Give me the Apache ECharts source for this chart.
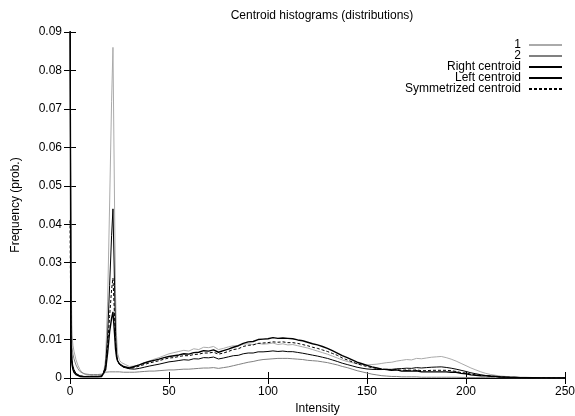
<!DOCTYPE html>
<html>
<head>
<meta charset="utf-8">
<script src="https://cdn.jsdelivr.net/npm/echarts@6/dist/echarts.min.js"></script>
<style>html,body{margin:0;padding:0;background:#fff}#c{width:575px;height:416px}</style>
</head>
<body>
<div id="c"></div>
<script>
var xs = [0,0.5,1,1.5,2,3,4,5,6,7,
  8,10,12,14,16,17,18,19,20,21,
  21.7,22.5,23,23.5,24,25,26,27,28,30,
  32.5,35,37.5,40,42.5,45,47.5,50,52.5,55,
  57.5,60,62.5,65,67.5,70,72.5,75,77.5,80,
  82.5,85,87.5,90,92.5,95,97.5,100,102.5,105,
  107.5,110,112.5,115,117.5,120,122.5,125,127.5,130,
  132.5,135,137.5,140,142.5,145,147.5,150,152.5,155,
  157.5,160,162.5,165,167.5,170,172.5,175,177.5,180,
  182.5,185,187.5,190,192.5,195,197.5,200,202.5,205,
  207.5,210,212.5,215,217.5,220,222.5,225,227.5,230,
  232.5,235,237.5,240,242.5,245,247.5,250];

var hist1 = [0.12,0.03,0.011,0.0085,0.007,0.0048,0.0033,0.0022,0.0015,0.0011,
  0.0009,0.0007,0.0006,0.0007,0.0009,0.0015,0.005,0.02,0.045,0.072,
  0.086,0.045,0.022,0.011,0.0065,0.0046,0.004,0.0037,0.0035,0.0030,
  0.0031,0.0034,0.0039,0.0044,0.0049,0.0053,0.0058,0.0063,0.0066,0.0069,
  0.0072,0.0070,0.0076,0.0074,0.0080,0.0079,0.0082,0.0074,0.0077,0.0081,
  0.0084,0.0083,0.0088,0.0089,0.0087,0.0090,0.0088,0.0089,0.0091,0.0087,
  0.0089,0.0086,0.0087,0.0084,0.0081,0.0078,0.0074,0.0070,0.0066,0.0062,
  0.0057,0.0052,0.0047,0.0043,0.0040,0.0037,0.0035,0.0034,0.0035,0.0036,
  0.0038,0.0040,0.0041,0.0044,0.0046,0.0048,0.0047,0.0051,0.0050,0.0052,
  0.0054,0.0055,0.0056,0.0053,0.0049,0.0044,0.0038,0.0032,0.0026,0.0021,
  0.0016,0.0012,0.0009,0.0007,0.0005,0.0004,0.0003,0.0003,0.0002,0.0002,
  0.00015,0.0001,0.0001,0.00008,0.00005,0.00003,0.00002,0];

var hist2 = [0.1,0.02,0.008,0.0062,0.005,0.0034,0.0024,0.0017,0.0013,0.0011,
  0.001,0.0009,0.0009,0.0009,0.001,0.0012,0.0015,0.0016,0.0016,0.0016,
  0.0016,0.0016,0.0016,0.0016,0.0016,0.0016,0.0016,0.0015,0.0015,0.0015,
  0.0015,0.0016,0.0017,0.0018,0.0018,0.0019,0.0020,0.0021,0.0021,0.0022,
  0.0023,0.0023,0.0024,0.0025,0.0026,0.0026,0.0027,0.0025,0.0027,0.0029,
  0.0032,0.0035,0.0038,0.0041,0.0043,0.0046,0.0048,0.0049,0.0050,0.0051,
  0.0051,0.0051,0.0050,0.0049,0.0048,0.0046,0.0045,0.0044,0.0042,0.0040,
  0.0037,0.0034,0.0030,0.0027,0.0023,0.0019,0.0016,0.0013,0.0010,0.0008,
  0.0006,0.0005,0.0004,0.0004,0.0003,0.0003,0.0003,0.0003,0.0002,0.0002,
  0.0002,0.0002,0.0002,0.0002,0.0002,0.0002,0.00015,0.00015,0.0001,0.0001,
  0.0001,0.0001,0.0001,0.0001,0.00005,0.00005,0.00003,0.00003,0.00002,0.00002,
  0.00001,0.00001,0,0,0,0,0,0];

var rightCentroid = [0.11,0.01,0.0045,0.003,0.0022,0.0012,0.0008,0.0006,0.0005,0.0004,
  0.0004,0.0004,0.0004,0.0004,0.0006,0.0012,0.0035,0.011,0.024,0.037,
  0.044,0.024,0.012,0.0065,0.0045,0.0035,0.0031,0.0028,0.0026,0.0024,
  0.0023,0.0025,0.0028,0.0031,0.00335,0.0036,0.0039,0.0042,0.00435,0.00455,
  0.00475,0.00465,0.0050,0.00495,0.0053,0.00525,0.00545,0.00495,0.0052,0.0055,
  0.0058,0.0059,0.0063,0.0065,0.0065,0.0068,0.0068,0.0069,0.00705,0.0069,
  0.0070,0.00685,0.00685,0.00665,0.00645,0.0062,0.00595,0.0057,0.0054,0.0051,
  0.0047,0.0043,0.00385,0.0035,0.00315,0.0028,0.00255,0.00235,0.00225,0.0022,
  0.0022,0.00225,0.00225,0.0024,0.00245,0.00255,0.0025,0.0027,0.0026,0.0027,
  0.0028,0.00285,0.0029,0.00275,0.00255,0.0023,0.0020,0.0017,0.00135,0.0011,
  0.00085,0.00065,0.0005,0.0004,0.00028,0.00022,0.00017,0.00016,0.00011,0.0001,
  0.00008,0.00005,0.00005,0.00004,0.00003,0.00002,0.00001,0];

var leftCentroid = [0.1,0.008,0.0035,0.0022,0.0015,0.0009,0.0006,0.0004,0.0003,0.0003,
  0.0003,0.0003,0.0003,0.0003,0.0004,0.0007,0.0022,0.0065,0.012,0.0155,
  0.0172,0.0115,0.0075,0.0055,0.0045,0.0037,0.0033,0.003,0.0028,0.0026,
  0.0030,0.0034,0.0039,0.0043,0.0046,0.0049,0.0053,0.0056,0.0058,0.0060,
  0.0063,0.0062,0.0066,0.0067,0.0071,0.0070,0.0073,0.0067,0.0071,0.0075,
  0.0080,0.0084,0.0090,0.0094,0.0095,0.0100,0.0101,0.0102,0.0105,0.0103,
  0.0104,0.0103,0.0102,0.0099,0.0097,0.0093,0.0089,0.0086,0.0082,0.0077,
  0.0071,0.0065,0.0058,0.0053,0.0047,0.0041,0.0037,0.0033,0.0029,0.0026,
  0.0023,0.0022,0.0020,0.0021,0.0018,0.0019,0.0018,0.0019,0.0016,0.0016,
  0.0016,0.0016,0.0016,0.0016,0.0015,0.0015,0.0012,0.0011,0.0008,0.0007,
  0.0006,0.00054,0.00047,0.00041,0.00025,0.00022,0.00015,0.00015,0.0001,0.0001,
  0.00006,0.00005,0.00003,0.00002,0.00001,0,0,0];

var symCentroid = [0.041,0.009,0.004,0.0026,0.0018,0.001,0.0007,0.0005,0.0004,0.0004,
  0.0004,0.0004,0.0004,0.0004,0.0005,0.0009,0.0028,0.0085,0.016,0.023,
  0.026,0.016,0.009,0.006,0.0045,0.0036,0.0032,0.0029,0.0027,0.0025,
  0.0027,0.0031,0.0035,0.0039,0.0042,0.0045,0.0049,0.0052,0.0053,0.0056,
  0.0058,0.0058,0.0061,0.0062,0.0065,0.0065,0.0067,0.0062,0.0065,0.0069,
  0.0074,0.0076,0.0082,0.0085,0.0086,0.0090,0.0091,0.0092,0.0094,0.0093,
  0.0094,0.0092,0.0092,0.0090,0.0087,0.0084,0.0080,0.0077,0.0073,0.0069,
  0.0064,0.0059,0.0052,0.0047,0.0042,0.0037,0.0033,0.0030,0.0027,0.0025,
  0.0023,0.0022,0.0021,0.0022,0.0020,0.0021,0.0020,0.0021,0.0019,0.0019,
  0.0020,0.0020,0.0020,0.0020,0.0019,0.0017,0.0014,0.0013,0.0010,0.0008,
  0.0007,0.0006,0.0005,0.0004,0.00026,0.00022,0.00016,0.00015,0.0001,0.0001,
  0.00007,0.00005,0.00004,0.00003,0.00002,0.00001,0.00001,0];

var seriesNames = ['1','2','Right centroid','Left centroid','Symmetrized centroid'];
var xTicks = [0,50,100,150,200,250];
var yTicks = [0,0.01,0.02,0.03,0.04,0.05,0.06,0.07,0.08,0.09];

function pairs(ys){ return xs.map(function(x,i){ return [x, ys[i]]; }); }

var FONT = 'Liberation Sans, Arial, Helvetica, sans-serif';
var axisCommon = {
  axisLine:{show:true,lineStyle:{color:'#000',width:1}},
  axisTick:{show:true,inside:true,length:6,lineStyle:{color:'#000'}},
  splitLine:{show:false}
};
function merge(a,b){var o={};for(var k in a)o[k]=a[k];for(var k2 in b)o[k2]=b[k2];return o;}

var chart = echarts.init(document.getElementById('c'), null, {renderer:'canvas'});
chart.setOption({
  animation:false,
  backgroundColor:'#fff',
  textStyle:{fontFamily:FONT},
  title:{text:'Centroid histograms (distributions)', left:317, top:5, textAlign:'center',
    textStyle:{fontSize:12,fontWeight:'normal',color:'#000',fontFamily:FONT}},
  grid:{left:70,right:10,top:32,bottom:38,show:false,containLabel:false,outerBoundsMode:'none'},
  legend:{
    data:seriesNames, orient:'vertical', right:12, top:39, align:'right', padding:0,
    itemWidth:33, itemHeight:8, itemGap:-1,
    itemStyle:{opacity:0},
    textStyle:{fontSize:12,color:'#000',fontFamily:FONT,padding:[0,3,0,0]}
  },
  xAxis:[
    merge(axisCommon,{type:'value',min:xTicks[0],max:xTicks[xTicks.length-1],interval:50,position:'bottom',
      axisLabel:{color:'#000',fontSize:12,margin:8,fontFamily:FONT},
      name:'Intensity',nameLocation:'middle',nameGap:24,
      nameTextStyle:{color:'#000',fontSize:12,fontFamily:FONT}}),
    merge(axisCommon,{type:'value',min:xTicks[0],max:xTicks[xTicks.length-1],interval:50,position:'top',
      axisLabel:{show:false}})
  ],
  yAxis:[
    merge(axisCommon,{type:'value',min:yTicks[0],max:yTicks[yTicks.length-1],interval:0.01,position:'left',
      axisLabel:{color:'#000',fontSize:12,margin:8,fontFamily:FONT,
        formatter:function(v){return String(Math.round(v*100)/100);}},
      name:'Frequency (prob.)',nameLocation:'middle',nameGap:48,nameRotate:90,
      nameTextStyle:{color:'#000',fontSize:12,fontFamily:FONT}}),
    merge(axisCommon,{type:'value',min:yTicks[0],max:yTicks[yTicks.length-1],interval:0.01,position:'right',
      axisLabel:{show:false}})
  ],
  series:[
    {name:seriesNames[0],type:'line',symbol:'none',data:pairs(hist1),clip:true,
      lineStyle:{color:'#aaaaaa',width:1},itemStyle:{color:'#aaaaaa'}},
    {name:seriesNames[1],type:'line',symbol:'none',data:pairs(hist2),clip:true,
      lineStyle:{color:'#808080',width:1},itemStyle:{color:'#808080'}},
    {name:seriesNames[2],type:'line',symbol:'none',data:pairs(rightCentroid),clip:true,
      lineStyle:{color:'#000',width:1},itemStyle:{color:'#000'}},
    {name:seriesNames[3],type:'line',symbol:'none',data:pairs(leftCentroid),clip:true,
      lineStyle:{color:'#000',width:1.4},itemStyle:{color:'#000'}},
    {name:seriesNames[4],type:'line',symbol:'none',data:pairs(symCentroid),clip:true,
      lineStyle:{color:'#000',width:1,type:[3,2]},itemStyle:{color:'#000'}}
  ]
});
</script>
</body>
</html>
